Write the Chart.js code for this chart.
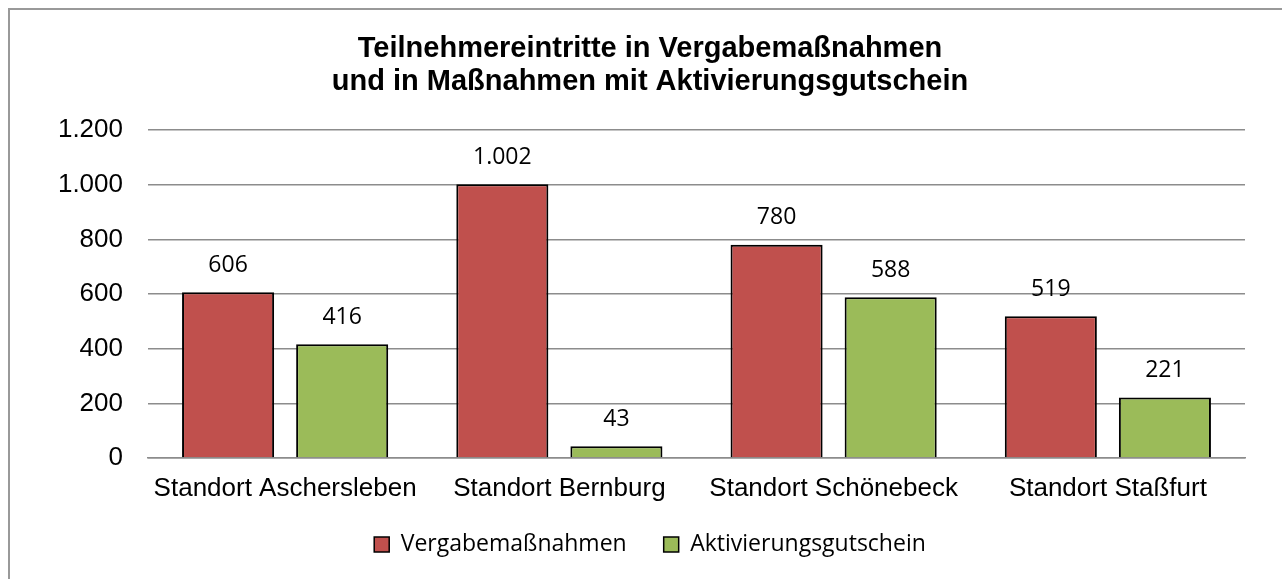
<!DOCTYPE html>
<html lang="de">
<head>
<meta charset="utf-8">
<title>Teilnehmereintritte</title>
<script src="https://cdn.jsdelivr.net/npm/chart.js@4.4.1/dist/chart.umd.min.js"></script>
<style>
  html, body { margin: 0; padding: 0; background: #fff; overflow: hidden; }
  #frame {
    position: absolute; left: 8px; top: 8px;
    width: 1300px; height: 600px;
    border: 2px solid #999; background: #fff;
  }
  #chart { position: absolute; left: 0; top: 0; }
</style>
</head>
<body>
<div id="frame"><canvas id="chart" width="1280" height="582"></canvas></div>
<script>
const categories = ["Standort Aschersleben", "Standort Bernburg", "Standort Schönebeck", "Standort Staßfurt"];
const seriesNames = ["Vergabemaßnahmen", "Aktivierungsgutschein"];
const vergabeValues = [606, 1002, 780, 519];
const gutscheinValues = [416, 43, 588, 221];
const yTicks = [0, 200, 400, 600, 800, 1000, 1200];
const titleLines = ["Teilnehmereintritte in Vergabemaßnahmen", "und in Maßnahmen mit Aktivierungsgutschein"];

(function () {
  "use strict";

  const RED = "#C0504D";
  const GREEN = "#9BBB59";
  const GRID = "#8c8c8c";

  function formatDe(value) {
    return Number(value).toLocaleString("de-DE");
  }

  // value labels above each bar
  const barLabels = {
    id: "barLabels",
    afterDatasetsDraw(chart) {
      const ctx = chart.ctx;
      ctx.save();
      ctx.font = "23px 'Open Sans'";
      ctx.fillStyle = "#000";
      ctx.textAlign = "center";
      ctx.textBaseline = "middle";
      chart.data.datasets.forEach(function (ds, i) {
        chart.getDatasetMeta(i).data.forEach(function (bar, j) {
          ctx.fillText(formatDe(ds.data[j]), bar.x, bar.y - 27);
        });
      });
      ctx.restore();
    },
  };

  // let the category labels hang a bit below the x scale box (no clipping of descenders)
  const looseXLabels = {
    id: "looseXLabels",
    afterLayout(chart) {
      chart.scales.x.bottom += 25;
    },
  };

  new Chart(document.getElementById("chart"), {
    type: "bar",
    data: {
      labels: categories,
      datasets: [
        {
          label: seriesNames[0],
          data: vergabeValues,
          backgroundColor: RED,
          borderColor: "#000",
          borderWidth: 2,
        },
        {
          label: seriesNames[1],
          data: gutscheinValues,
          backgroundColor: GREEN,
          borderColor: "#000",
          borderWidth: 2,
        },
      ],
    },
    options: {
      responsive: false,
      animation: false,
      devicePixelRatio: 1,
      categoryPercentage: 0.832,
      barPercentage: 0.807,
      layout: { padding: { left: 0, right: 0, top: 0, bottom: 26 } },
      plugins: {
        tooltip: { enabled: false },
        title: {
          display: true,
          text: titleLines,
          color: "#000",
          font: { family: "'Liberation Sans', Arial, sans-serif", size: 29, weight: "bold", lineHeight: 1.14 },
          padding: { top: 22.5, bottom: 31.4 },
        },
        legend: {
          position: "bottom",
          labels: {
            color: "#000",
            font: { family: "'Open Sans'", size: 23 },
            boxWidth: 15,
            boxHeight: 15,
            padding: 37,
            generateLabels: function (chart) {
              return chart.data.datasets.map(function (ds, i) {
                return {
                  text: ds.label,
                  fillStyle: ds.backgroundColor,
                  strokeStyle: "#000",
                  lineWidth: 1.5,
                  datasetIndex: i,
                };
              });
            },
          },
        },
      },
      scales: {
        x: {
          afterFit: function (scale) { scale.height = 38; },
          grid: { display: false, drawTicks: false },
          border: { display: true, color: GRID, width: 1.5 },
          ticks: {
            color: "#000",
            padding: 15,
            font: { family: "'Liberation Sans', Arial, sans-serif", size: 26 },
          },
        },
        y: {
          min: 0,
          max: 1200,
          afterFit: function (scale) { scale.width = 138; },
          afterBuildTicks: function (scale) {
            scale.ticks = yTicks.map(function (v) { return { value: v }; });
          },
          grid: { color: GRID, lineWidth: 1.5, drawTicks: false },
          border: { display: false },
          ticks: {
            color: "#000",
            padding: 25,
            font: { family: "'Liberation Sans', Arial, sans-serif", size: 26 },
            callback: function (value) { return formatDe(value); },
          },
        },
        // empty right-hand spacer so title and legend stay centred on the whole frame
        yRight: {
          position: "right",
          afterFit: function (scale) { scale.width = 45; },
          grid: { display: false, drawTicks: false },
          border: { display: false },
          ticks: { display: false },
        },
      },
    },
    plugins: [barLabels, looseXLabels],
  });
})();
</script>
</body>
</html>
